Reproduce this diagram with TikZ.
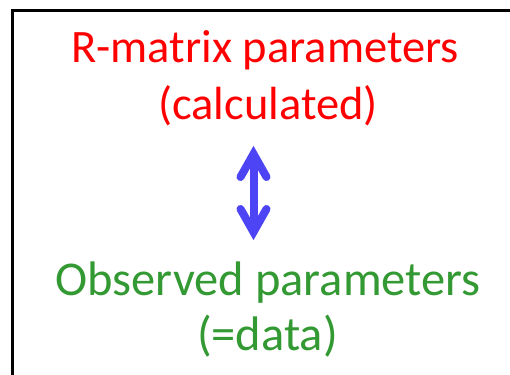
\documentclass[tikz,border=0pt]{standalone}
\usepackage{fontspec}
\setmainfont{Carlito}
\definecolor{redtxt}{RGB}{255,0,0}
\definecolor{greentxt}{RGB}{51,153,51}
\definecolor{arrowblue}{RGB}{76,68,245}
\tikzset{
  lbl/.style={anchor=base, inner sep=0pt},
  redlbl/.style={lbl, text=redtxt, font=\fontsize{46.5}{52}\selectfont},
  greenlbl/.style={lbl, text=greentxt, font=\fontsize{48.5}{54}\selectfont},
  chevron/.style={draw=arrowblue, line width=8pt, line cap=round, line join=miter},
}
\begin{document}
\begin{tikzpicture}[x=1pt,y=-1pt]
\useasboundingbox (0,0) rectangle (510,374);
\draw[line width=3pt] (12.5,380) -- (12.5,10.5) -- (515,10.5);
\node[redlbl] (r1) at (265,63) {R-matrix parameters};
\node[redlbl] (r2) at (268,120) {(calculated)};
\node[greenlbl] (g1) at (268,295) {Observed parameters};
\node[greenlbl] (g2) at (267.5,350) {(=data)};
\coordinate (topv) at (253.5,154);
\coordinate (botv) at (253.5,232);
\draw[draw=arrowblue, line width=8pt] (topv) -- (botv);
\draw[chevron] (240.5,177) -- (topv) -- (266.5,177);
\draw[chevron] (240.5,209) -- (botv) -- (266.5,209);
\end{tikzpicture}
\end{document}
